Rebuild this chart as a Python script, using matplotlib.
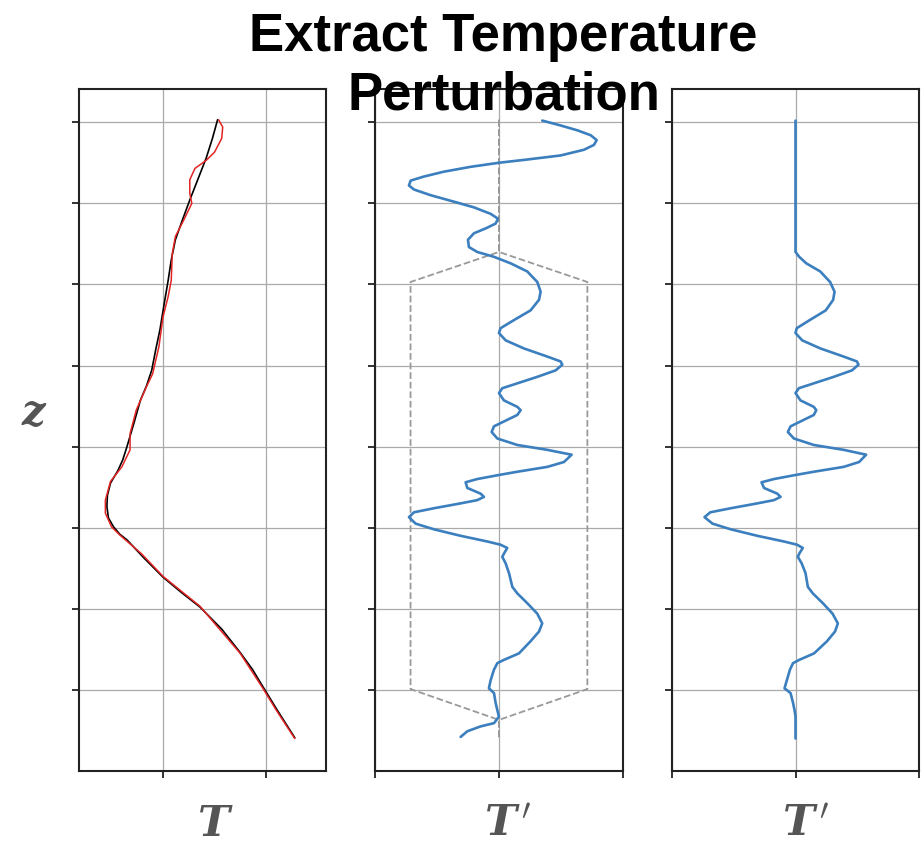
import numpy as np
import matplotlib
matplotlib.use('Agg')
import matplotlib.pyplot as plt

plt.rcParams['mathtext.fontset'] = 'dejavuserif'

# background (smooth) temperature profile
z_bg = [8.03, 7.80, 7.56, 7.30, 7.04, 6.80, 6.55, 6.30, 6.05, 5.75, 5.44, 5.20,
        4.94, 4.75, 4.57, 4.30, 4.00, 3.84, 3.70, 3.55, 3.40, 3.26, 3.12, 3.01,
        2.92, 2.85, 2.62, 2.39, 2.20, 2.02, 1.75, 1.46, 1.25, 1.04, 0.75, 0.41]
T_bg = [1.53, 1.48, 1.42, 1.34, 1.26, 1.19, 1.12, 1.08, 1.05, 1.01, 0.97, 0.93,
        0.89, 0.84, 0.78, 0.72, 0.65, 0.61, 0.56, 0.49, 0.46, 0.455, 0.47, 0.52,
        0.58, 0.65, 0.82, 1.00, 1.18, 1.36, 1.57, 1.75, 1.87, 1.97, 2.11, 2.28]

# observed temperature profile (red)
z_obs = [8.03, 7.94, 7.80, 7.63, 7.53, 7.43, 7.29, 7.12, 7.00, 6.79, 6.59, 6.38,
         6.05, 5.85, 5.60, 5.23, 5.07, 4.90, 4.74, 4.45, 4.16, 3.96, 3.75, 3.57,
         3.34, 3.18, 3.01, 2.91, 2.68, 2.40, 2.03, 1.45, 1.02, 0.75, 0.40]
T_obs = [1.54, 1.58, 1.57, 1.50, 1.42, 1.31, 1.26, 1.26, 1.28, 1.20, 1.12, 1.09,
         1.08, 1.05, 1.00, 0.96, 0.93, 0.90, 0.84, 0.74, 0.68, 0.68, 0.60, 0.49,
         0.44, 0.44, 0.50, 0.58, 0.79, 1.00, 1.36, 1.75, 1.97, 2.10, 2.28]

# perturbation T' (middle panel)
z_pert = [8.02, 7.96, 7.90, 7.84, 7.78, 7.72, 7.66, 7.59, 7.54, 7.50, 7.45, 7.39,
          7.33, 7.28, 7.22, 7.17, 7.10, 7.02, 6.95, 6.87, 6.81, 6.75, 6.69, 6.63,
          6.55, 6.46, 6.40, 6.34, 6.26, 6.16, 6.03, 5.91, 5.81, 5.68, 5.56, 5.46,
          5.40, 5.31, 5.21, 5.11, 5.05, 5.01, 4.94, 4.86, 4.78, 4.72, 4.66, 4.57,
          4.49, 4.45, 4.39, 4.33, 4.25, 4.18, 4.10, 4.02, 3.96, 3.90, 3.81, 3.75,
          3.69, 3.65, 3.60, 3.56, 3.49, 3.42, 3.38, 3.34, 3.30, 3.24, 3.19, 3.13,
          3.05, 2.98, 2.90, 2.83, 2.79, 2.75, 2.68, 2.64, 2.56, 2.44, 2.27, 2.19,
          2.07, 1.94, 1.82, 1.72, 1.60, 1.45, 1.37, 1.33, 1.25, 1.12, 1.02, 0.96,
          0.84, 0.75, 0.67, 0.59, 0.55, 0.49, 0.42]
T_pert = [0.349, 0.497, 0.632, 0.739, 0.788, 0.766, 0.685, 0.497, 0.228, 0.0,
          -0.228, -0.444, -0.605, -0.712, -0.726, -0.685, -0.551, -0.363, -0.202, -0.067,
          -0.008, -0.027, -0.108, -0.202, -0.250, -0.242, -0.175, -0.040, 0.094, 0.228,
          0.309, 0.336, 0.323, 0.255, 0.121, 0.013, 0.0, 0.054, 0.202, 0.390,
          0.497, 0.511, 0.457, 0.309, 0.148, 0.027, 0.0, 0.040, 0.148, 0.175,
          0.148, 0.067, -0.040, -0.059, -0.013, 0.148, 0.390, 0.586, 0.524, 0.390,
          0.148, 0.0, -0.175, -0.269, -0.255, -0.148, -0.121, -0.175, -0.309, -0.524,
          -0.685, -0.726, -0.672, -0.524, -0.309, -0.094, 0.013, 0.067, 0.040, 0.027,
          0.054, 0.081, 0.108, 0.148, 0.228, 0.309, 0.349, 0.323, 0.255, 0.161,
          0.040, -0.013, -0.040, -0.067, -0.081, -0.040, -0.027, -0.013, 0.0, -0.040,
          -0.148, -0.255, -0.309]

# windowed perturbation (right panel)
z_win = [8.02, 6.40, 6.34, 6.26, 6.16, 6.03, 5.91, 5.81, 5.68, 5.56, 5.46,
         5.40, 5.31, 5.21, 5.11, 5.05, 5.01, 4.94, 4.86, 4.78, 4.72, 4.66, 4.57,
         4.49, 4.45, 4.39, 4.33, 4.25, 4.18, 4.10, 4.02, 3.96, 3.90, 3.81, 3.75,
         3.69, 3.65, 3.60, 3.56, 3.49, 3.42, 3.38, 3.34, 3.30, 3.24, 3.19, 3.13,
         3.05, 2.98, 2.90, 2.83, 2.79, 2.75, 2.68, 2.64, 2.56, 2.44, 2.27, 2.19,
         2.07, 1.94, 1.82, 1.72, 1.60, 1.45, 1.37, 1.33, 1.25, 1.12, 1.02, 0.96,
         0.84, 0.75, 0.67, 0.40]
T_win = [0.0, 0.0, 0.03, 0.087, 0.20, 0.28, 0.316, 0.305, 0.245, 0.115, 0.010,
         0.0, 0.054, 0.202, 0.390, 0.497, 0.510, 0.457, 0.309, 0.148, 0.027, 0.0, 0.040,
         0.148, 0.168, 0.148, 0.067, -0.040, -0.062, -0.013, 0.148, 0.390, 0.572, 0.515, 0.390,
         0.148, 0.0, -0.175, -0.275, -0.255, -0.148, -0.121, -0.175, -0.309, -0.524,
         -0.690, -0.737, -0.672, -0.524, -0.309, -0.094, 0.013, 0.059, 0.030, 0.019,
         0.050, 0.081, 0.100, 0.140, 0.221, 0.300, 0.343, 0.320, 0.255, 0.150,
         0.030, -0.020, -0.045, -0.070, -0.089, -0.040, -0.020, -0.008, 0.0, 0.0]

# dashed window outline (half width)
z_box = [8.03, 6.40, 6.03, 1.01, 0.63, 0.40]
w_box = [0.0, 0.0, 0.713, 0.713, 0.0, 0.0]

blue = '#3b7fbf'
grid_c = '#aaaaaa'
lab_c = '#555555'

fig = plt.figure(figsize=(9.24, 8.44), dpi=100)
ax1 = fig.add_axes([0.0855, 0.0865, 0.2673, 0.8081])
ax2 = fig.add_axes([0.4058, 0.0865, 0.2684, 0.8081])
ax3 = fig.add_axes([0.7273, 0.0865, 0.2673, 0.8081])

ax1.plot(T_bg, z_bg, color='black', lw=1.2, solid_capstyle='round')
ax1.plot(T_obs, z_obs, color='#e32424', lw=1.1, solid_capstyle='round')
ax1.set_xlim(0.184, 2.583)
ax1.set_xticks([1, 2])

ax2.plot(w_box, z_box, color='#999999', lw=1.3, ls='--')
ax2.plot(-np.array(w_box), z_box, color='#999999', lw=1.3, ls='--')
ax2.plot(T_pert, z_pert, color=blue, lw=1.9, solid_capstyle='round', solid_joinstyle='round')

ax3.plot(T_win, z_win, color=blue, lw=1.9, solid_capstyle='round', solid_joinstyle='round')

for ax in (ax2, ax3):
    ax.set_xlim(-1, 1)
    ax.set_xticks([-1, 0, 1])

for ax in (ax1, ax2, ax3):
    ax.set_ylim(0, 8.41)
    ax.set_yticks(range(1, 9))
    ax.set_xticklabels([])
    ax.set_yticklabels([])
    ax.grid(True, color=grid_c, lw=0.9)
    ax.set_axisbelow(True)
    ax.tick_params(direction='out', length=5, width=1.3, color='#222222')
    for s in ax.spines.values():
        s.set_linewidth(1.5)
        s.set_color('#222222')

title_kw = dict(ha='center', va='baseline', fontsize=38, fontweight='bold',
                family='Liberation Sans')
fig.text(0.545, 1 - 51 / 844, 'Extract Temperature', **title_kw)
fig.text(0.545, 1 - 109 / 844, 'Perturbation', **title_kw)

lab = dict(color=lab_c, ha='center', va='baseline')
fig.text(34 / 924, 1 - 425 / 844, r'$\mathbfit{z}$', fontsize=30, **lab)
fig.text(215 / 924, 1 - 836 / 844, r'$\mathbfit{T}$', fontsize=31, **lab)
fig.text(508 / 924, 1 - 836 / 844, r"$\mathbfit{T}^{\,\prime}$", fontsize=31, **lab)
fig.text(806 / 924, 1 - 836 / 844, r"$\mathbfit{T}^{\,\prime}$", fontsize=31, **lab)

fig.savefig('out.png', dpi=100)
